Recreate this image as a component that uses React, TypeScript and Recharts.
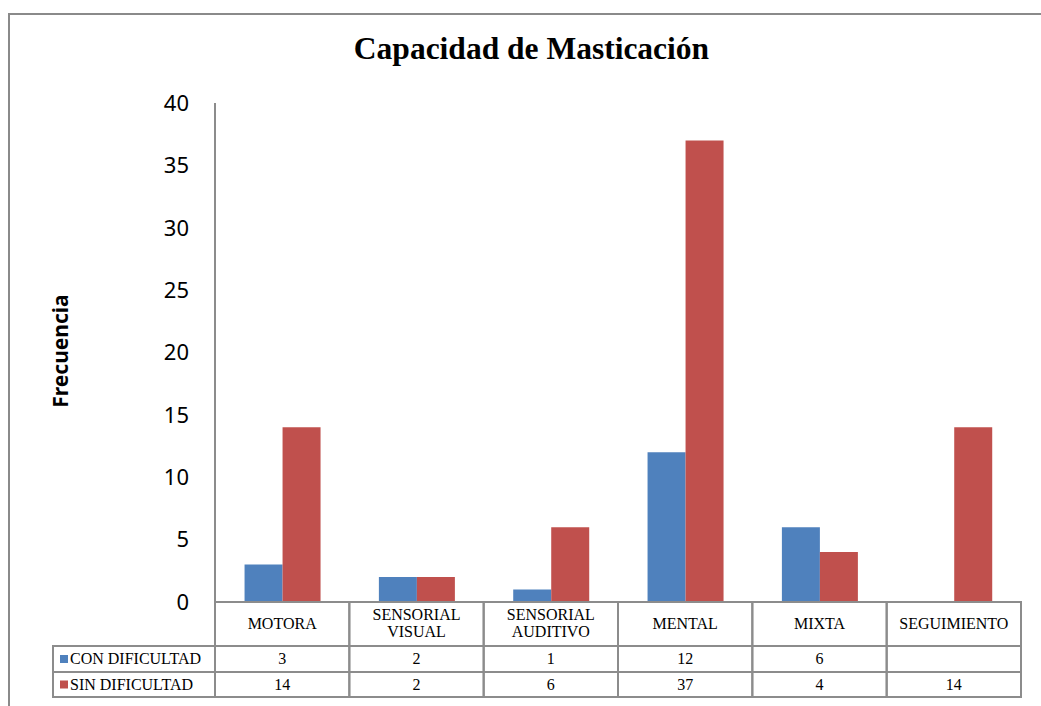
import React from 'react';
import { BarChart, Bar, XAxis, YAxis } from 'recharts';

const categories = ['MOTORA', 'SENSORIAL VISUAL', 'SENSORIAL AUDITIVO', 'MENTAL', 'MIXTA', 'SEGUIMIENTO'];
const conDificultad: (number | null)[] = [3, 2, 1, 12, 6, null];
const sinDificultad: (number | null)[] = [14, 2, 6, 37, 4, 14];
const yTicks = [0, 5, 10, 15, 20, 25, 30, 35, 40];
const seriesNames = ['CON DIFICULTAD', 'SIN DIFICULTAD'];
const seriesColors = ['#4F81BD', '#C0504D'];

const data = categories.map((c, i) => ({
  name: c,
  con: conDificultad[i],
  sin: sinDificultad[i],
}));

const PLOT_LEFT = 215;
const PLOT_RIGHT = 1021;
const BAND = (PLOT_RIGHT - PLOT_LEFT) / categories.length;
const LEGEND_W = 162;
const ROW_H = [44, 26, 25];
const GRID = '#8c8c8c';
const serif = 'Liberation Serif, Times New Roman, serif';

const Cell = ({ x, y, anchor, children }: any) => (
  <text
    x={x}
    y={y}
    textAnchor={anchor || 'middle'}
    fontFamily="Liberation Serif"
    fontSize={16}
    fill="#000"
    style={{ fontFamily: serif, fontSize: 16 }}
  >
    {children}
  </text>
);

const TableTick = (props: any) => {
  const { x, y, payload } = props;
  const i = payload.index;
  const left = x - BAND / 2;
  const words = String(payload.value).split(' ');
  const h0 = ROW_H[0];
  const r1 = y + h0;
  const r2 = r1 + ROW_H[1];
  const total = ROW_H[0] + ROW_H[1] + ROW_H[2];
  const vals = [conDificultad[i], sinDificultad[i]];
  return (
    <g>
      <rect x={left} y={y} width={BAND} height={total} fill="none" stroke={GRID} strokeWidth={2} />
      <line x1={left} x2={left + BAND} y1={r1} y2={r1} stroke={GRID} strokeWidth={2} />
      <line x1={left} x2={left + BAND} y1={r2} y2={r2} stroke={GRID} strokeWidth={2} />
      {words.length === 1 ? (
        <Cell x={x} y={y + h0 / 2 + 5}>{words[0]}</Cell>
      ) : (
        <Cell x={x} y={y + h0 / 2 - 4}>
          <tspan x={x} y={y + h0 / 2 - 4}>{words[0]}</tspan>
          <tspan x={x} y={y + h0 / 2 + 13}>{words[1]}</tspan>
        </Cell>
      )}
      {vals.map((v, k) => (
        <Cell key={k} x={x} y={(k === 0 ? r1 : r2) + ROW_H[k + 1] / 2 + 5}>
          {v == null ? '' : v}
        </Cell>
      ))}
      {i === 0 && (
        <g>
          <rect x={left - LEGEND_W} y={r1} width={LEGEND_W} height={ROW_H[1] + ROW_H[2]} fill="none" stroke={GRID} strokeWidth={2} />
          <line x1={left - LEGEND_W} x2={left} y1={r2} y2={r2} stroke={GRID} strokeWidth={2} />
          {seriesNames.map((n, k) => {
            const cy = (k === 0 ? r1 : r2) + ROW_H[k + 1] / 2;
            return (
              <g key={n}>
                <rect x={left - LEGEND_W + 7} y={cy - 4} width={8} height={8} fill={seriesColors[k]} />
                <Cell x={left - LEGEND_W + 17} y={cy + 5} anchor="start">{n}</Cell>
              </g>
            );
          })}
        </g>
      )}
    </g>
  );
};

export default function App() {
  return (
    <div style={{ position: 'absolute', left: 0, top: 0, width: 1041, height: 706, background: '#fff', overflow: 'hidden' }}>
      <div
        style={{
          position: 'absolute',
          left: 8,
          top: 13,
          width: 1100,
          height: 800,
          borderTop: '2px solid #8a8a8a',
          borderLeft: '2px solid #8a8a8a',
        }}
      />
      <div
        style={{
          position: 'absolute',
          left: 0,
          width: 1041,
          top: 31,
          textAlign: 'center',
          paddingLeft: 22,
          boxSizing: 'border-box',
          fontFamily: serif,
          fontWeight: 'bold',
          fontSize: 31.5,
          color: '#000',
        }}
      >
        Capacidad de Masticación
      </div>
      <div
        style={{
          position: 'absolute',
          left: 60,
          top: 351,
          transform: 'translate(-50%, -50%) rotate(-90deg)',
          fontFamily: '"Noto Sans", sans-serif',
          fontWeight: 'bold',
          fontSize: 21,
          color: '#000',
          whiteSpace: 'nowrap',
        }}
      >
        Frecuencia
      </div>
      <div style={{ position: 'absolute', left: 0, top: 0 }}>
        <BarChart
          width={1041}
          height={706}
          data={data}
          margin={{ top: 103, left: PLOT_LEFT - 60, right: 1041 - PLOT_RIGHT, bottom: 4 }}
          barGap={0}
          barCategoryGap="22%"
        >
          <XAxis
            dataKey="name"
            height={100}
            axisLine={false}
            tickLine={false}
            tickSize={0}
            tickMargin={0}
            interval={0}
            tick={<TableTick />}
          />
          <YAxis
            width={60}
            domain={[0, 40]}
            ticks={yTicks}
            interval={0}
            axisLine={{ stroke: GRID, strokeWidth: 2 }}
            tickLine={false}
            tickSize={0}
            tickMargin={26}
            tick={{ fontSize: 22, fill: '#000', fontFamily: '"Noto Sans", sans-serif' }}
          />
          <Bar dataKey="con" name={seriesNames[0]} fill={seriesColors[0]} isAnimationActive={false} />
          <Bar dataKey="sin" name={seriesNames[1]} fill={seriesColors[1]} isAnimationActive={false} />
        </BarChart>
      </div>
    </div>
  );
}
